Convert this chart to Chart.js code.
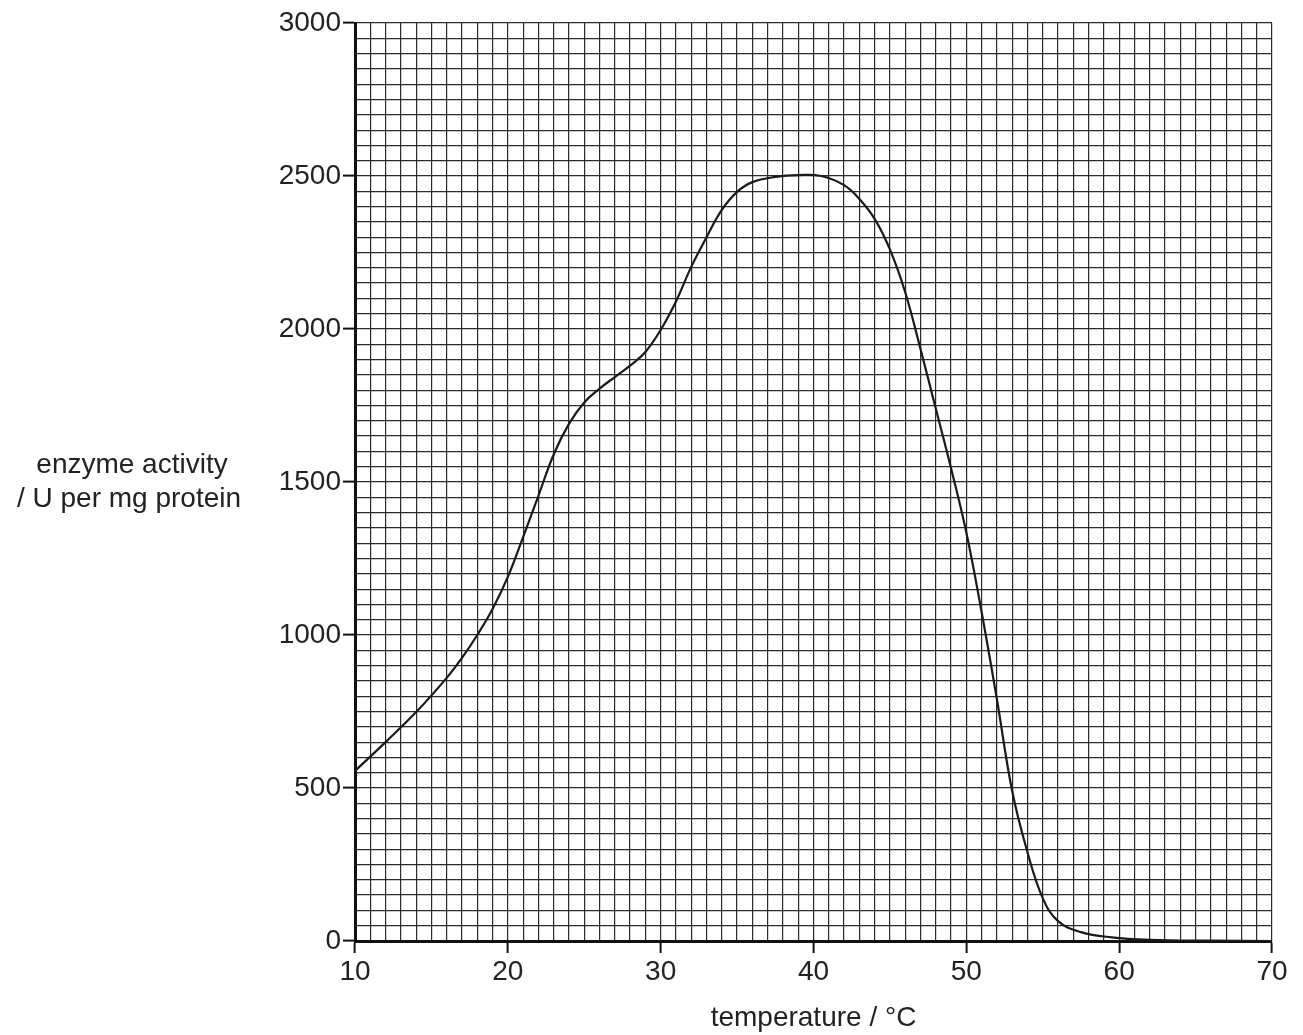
<!DOCTYPE html>
<html>
<head>
<meta charset="utf-8">
<script src="https://cdn.jsdelivr.net/npm/chart.js@4/dist/chart.umd.min.js"></script>
<style>
  html, body { margin: 0; padding: 0; background: #fff; }
  #wrap { width: 1303px; height: 1035px; }
</style>
</head>
<body>
<div id="wrap"><canvas id="chart" width="1303" height="1035"></canvas></div>
<script>
// temperature / °C
const temps = [10, 12, 14, 16, 17, 18, 19, 20, 21, 22, 23, 24, 25, 26, 27, 28, 29, 30, 31, 32, 33, 34, 35, 36,
  37.5, 39, 40.5, 42, 43, 44, 45, 46, 47, 48, 49, 50, 51, 52, 53, 54, 55, 56, 57.5, 59.5, 62, 66, 70];
// enzyme activity / U per mg protein
const activity = [556, 650, 748, 860, 925, 1000, 1085, 1190, 1320, 1455, 1590, 1690, 1760, 1805, 1843, 1880, 1925, 1997, 2090, 2203, 2300, 2389, 2448, 2480,
  2497, 2503, 2500, 2470, 2425, 2360, 2260, 2120, 1935, 1740, 1545, 1335, 1075, 790, 490, 290, 140, 65, 29, 12, 4, 1, 0];

const xLabels = [10, 20, 30, 40, 50, 60, 70];
const yLabels = [0, 500, 1000, 1500, 2000, 2500, 3000];
const yTitle = ["enzyme activity", "/ U per mg protein"];
const xTitle = "temperature / °C";

const FONT = "'Liberation Sans', Arial, sans-serif";

// horizontal y axis title to the left of the tick labels
const yTitlePlugin = {
  id: "yTitle",
  afterDraw(chart) {
    const ctx = chart.ctx;
    ctx.save();
    ctx.fillStyle = "#222";
    ctx.font = "28px " + FONT;
    ctx.textAlign = "center";
    ctx.textBaseline = "middle";
    ctx.fillText(yTitle[0], 132, 465);
    ctx.fillText(yTitle[1], 129, 499);
    ctx.restore();
  }
};

const points = temps.map((t, i) => ({ x: t, y: activity[i] }));

new Chart(document.getElementById("chart"), {
  type: "line",
  data: {
    datasets: [{
      data: points,
      borderColor: "#1a1a1a",
      borderWidth: 2.2,
      pointRadius: 0,
      fill: false,
      tension: 0.4
    }]
  },
  options: {
    responsive: false,
    animation: false,
    layout: { padding: { top: 23, right: 31, left: 0, bottom: 0 } },
    plugins: { legend: { display: false }, tooltip: { enabled: false } },
    scales: {
      x: {
        type: "linear",
        min: 10,
        max: 70,
        afterFit: (s) => { s.height = 94; },
        ticks: {
          stepSize: 1,
          autoSkip: false,
          maxRotation: 0,
          padding: 2,
          color: "#222",
          font: { size: 28, family: FONT },
          callback: (v) => xLabels.includes(v) ? String(v) : ""
        },
        grid: {
          color: "#2b2b2b",
          lineWidth: 1.2,
          tickLength: 12,
          tickWidth: 2,
          tickColor: (c) => c.tick && xLabels.includes(c.tick.value) ? "#111" : "rgba(0,0,0,0)"
        },
        border: { color: "#111", width: 3 },
        title: {
          display: true,
          text: xTitle,
          color: "#222",
          font: { size: 28, family: FONT },
          padding: { top: 0, bottom: 0 }
        }
      },
      y: {
        min: 0,
        max: 3000,
        afterFit: (s) => { s.width = 355; },
        ticks: {
          stepSize: 50,
          autoSkip: false,
          padding: 2,
          color: "#222",
          font: { size: 28, family: FONT },
          callback: (v) => yLabels.includes(v) ? String(v) : ""
        },
        grid: {
          color: "#2b2b2b",
          lineWidth: 1.2,
          tickLength: 12,
          tickWidth: 2,
          tickColor: (c) => c.tick && yLabels.includes(c.tick.value) ? "#111" : "rgba(0,0,0,0)"
        },
        border: { color: "#111", width: 3 }
      }
    }
  },
  plugins: [yTitlePlugin]
});
</script>
</body>
</html>
